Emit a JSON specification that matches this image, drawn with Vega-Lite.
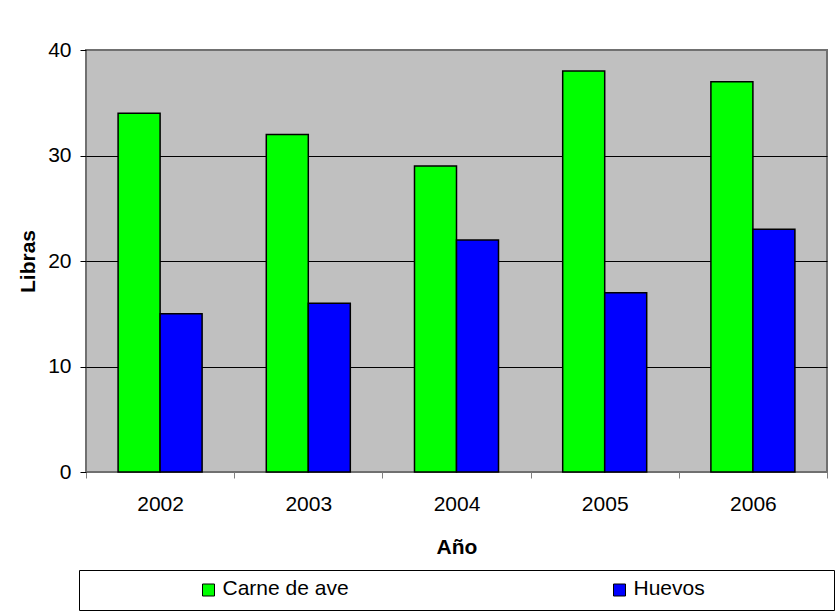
{
  "$schema": "https://vega.github.io/schema/vega-lite/v6.json",
  "background": "white",
  "padding": {"left": 16, "top": 38, "right": 0, "bottom": 0},
  "bounds": "flush",
  "center": true,
  "spacing": 98,
  "data": {
    "values": [
      {"anio": "2002", "serie": "Carne de ave", "libras": 34},
      {"anio": "2002", "serie": "Huevos", "libras": 15},
      {"anio": "2003", "serie": "Carne de ave", "libras": 32},
      {"anio": "2003", "serie": "Huevos", "libras": 16},
      {"anio": "2004", "serie": "Carne de ave", "libras": 29},
      {"anio": "2004", "serie": "Huevos", "libras": 22},
      {"anio": "2005", "serie": "Carne de ave", "libras": 38},
      {"anio": "2005", "serie": "Huevos", "libras": 17},
      {"anio": "2006", "serie": "Carne de ave", "libras": 37},
      {"anio": "2006", "serie": "Huevos", "libras": 23}
    ]
  },
  "vconcat": [
    {
      "width": 741,
      "height": 422,
      "view": {"fill": "#C0C0C0", "stroke": "#707070", "strokeWidth": 2},
      "mark": {"type": "bar", "stroke": "black", "strokeWidth": 1.5},
      "encoding": {
        "x": {
          "field": "anio",
          "type": "nominal",
          "title": "Año",
          "scale": {"paddingInner": 0, "paddingOuter": 0},
          "axis": {
            "labelAngle": 0,
            "tickBand": "extent",
            "domain": false,
            "tickColor": "#808080",
            "tickSize": 6,
            "labelPadding": 15,
            "labelFontSize": 21,
            "labelColor": "black",
            "titleFontSize": 21,
            "titleFontWeight": "bold",
            "titleColor": "black",
            "titlePadding": 22
          }
        },
        "xOffset": {
          "field": "serie",
          "type": "nominal",
          "sort": ["Carne de ave", "Huevos"],
          "scale": {"paddingInner": 0, "paddingOuter": 0.764}
        },
        "y": {
          "field": "libras",
          "type": "quantitative",
          "title": "Libras",
          "scale": {"domain": [0, 40], "nice": false},
          "axis": {
            "values": [0, 10, 20, 30, 40],
            "domain": false,
            "tickColor": "black",
            "tickSize": 6,
            "labelPadding": 9,
            "labelFontSize": 21,
            "labelColor": "black",
            "grid": true,
            "gridColor": {"condition": {"test": "datum.value === 0 || datum.value === 40", "value": "transparent"}, "value": "black"},
            "gridWidth": 1,
            "titleFontSize": 21,
            "titleFontWeight": "bold",
            "titleColor": "black",
            "titlePadding": 9
          }
        },
        "color": {
          "field": "serie",
          "type": "nominal",
          "scale": {"domain": ["Carne de ave", "Huevos"], "range": ["#00FF00", "#0000FF"]},
          "legend": null
        }
      }
    },
    {
      "width": 755,
      "height": 40,
      "view": {"fill": "white", "stroke": "black", "strokeWidth": 1},
      "transform": [{"aggregate": [{"op": "count", "as": "n"}], "groupby": ["serie"]}],
      "encoding": {
        "x": {
          "field": "serie",
          "type": "nominal",
          "scale": {"type": "point", "padding": 0, "domain": ["Carne de ave", "Huevos"], "range": [129.5, 540.5]},
          "axis": null
        }
      },
      "layer": [
        {
          "mark": {"type": "point", "shape": "square", "filled": true, "size": 144, "stroke": "black", "strokeWidth": 1, "opacity": 1},
          "encoding": {
            "color": {
              "field": "serie",
              "type": "nominal",
              "scale": {"domain": ["Carne de ave", "Huevos"], "range": ["#00FF00", "#0000FF"]},
              "legend": null
            }
          }
        },
        {
          "mark": {"type": "text", "align": "left", "baseline": "middle", "dx": 14, "dy": -1, "fontSize": 21, "color": "black"},
          "encoding": {"text": {"field": "serie"}}
        }
      ]
    }
  ],
  "config": {
    "font": "Liberation Sans",
    "axis": {"labelFont": "Liberation Sans", "titleFont": "Liberation Sans"}
  }
}
